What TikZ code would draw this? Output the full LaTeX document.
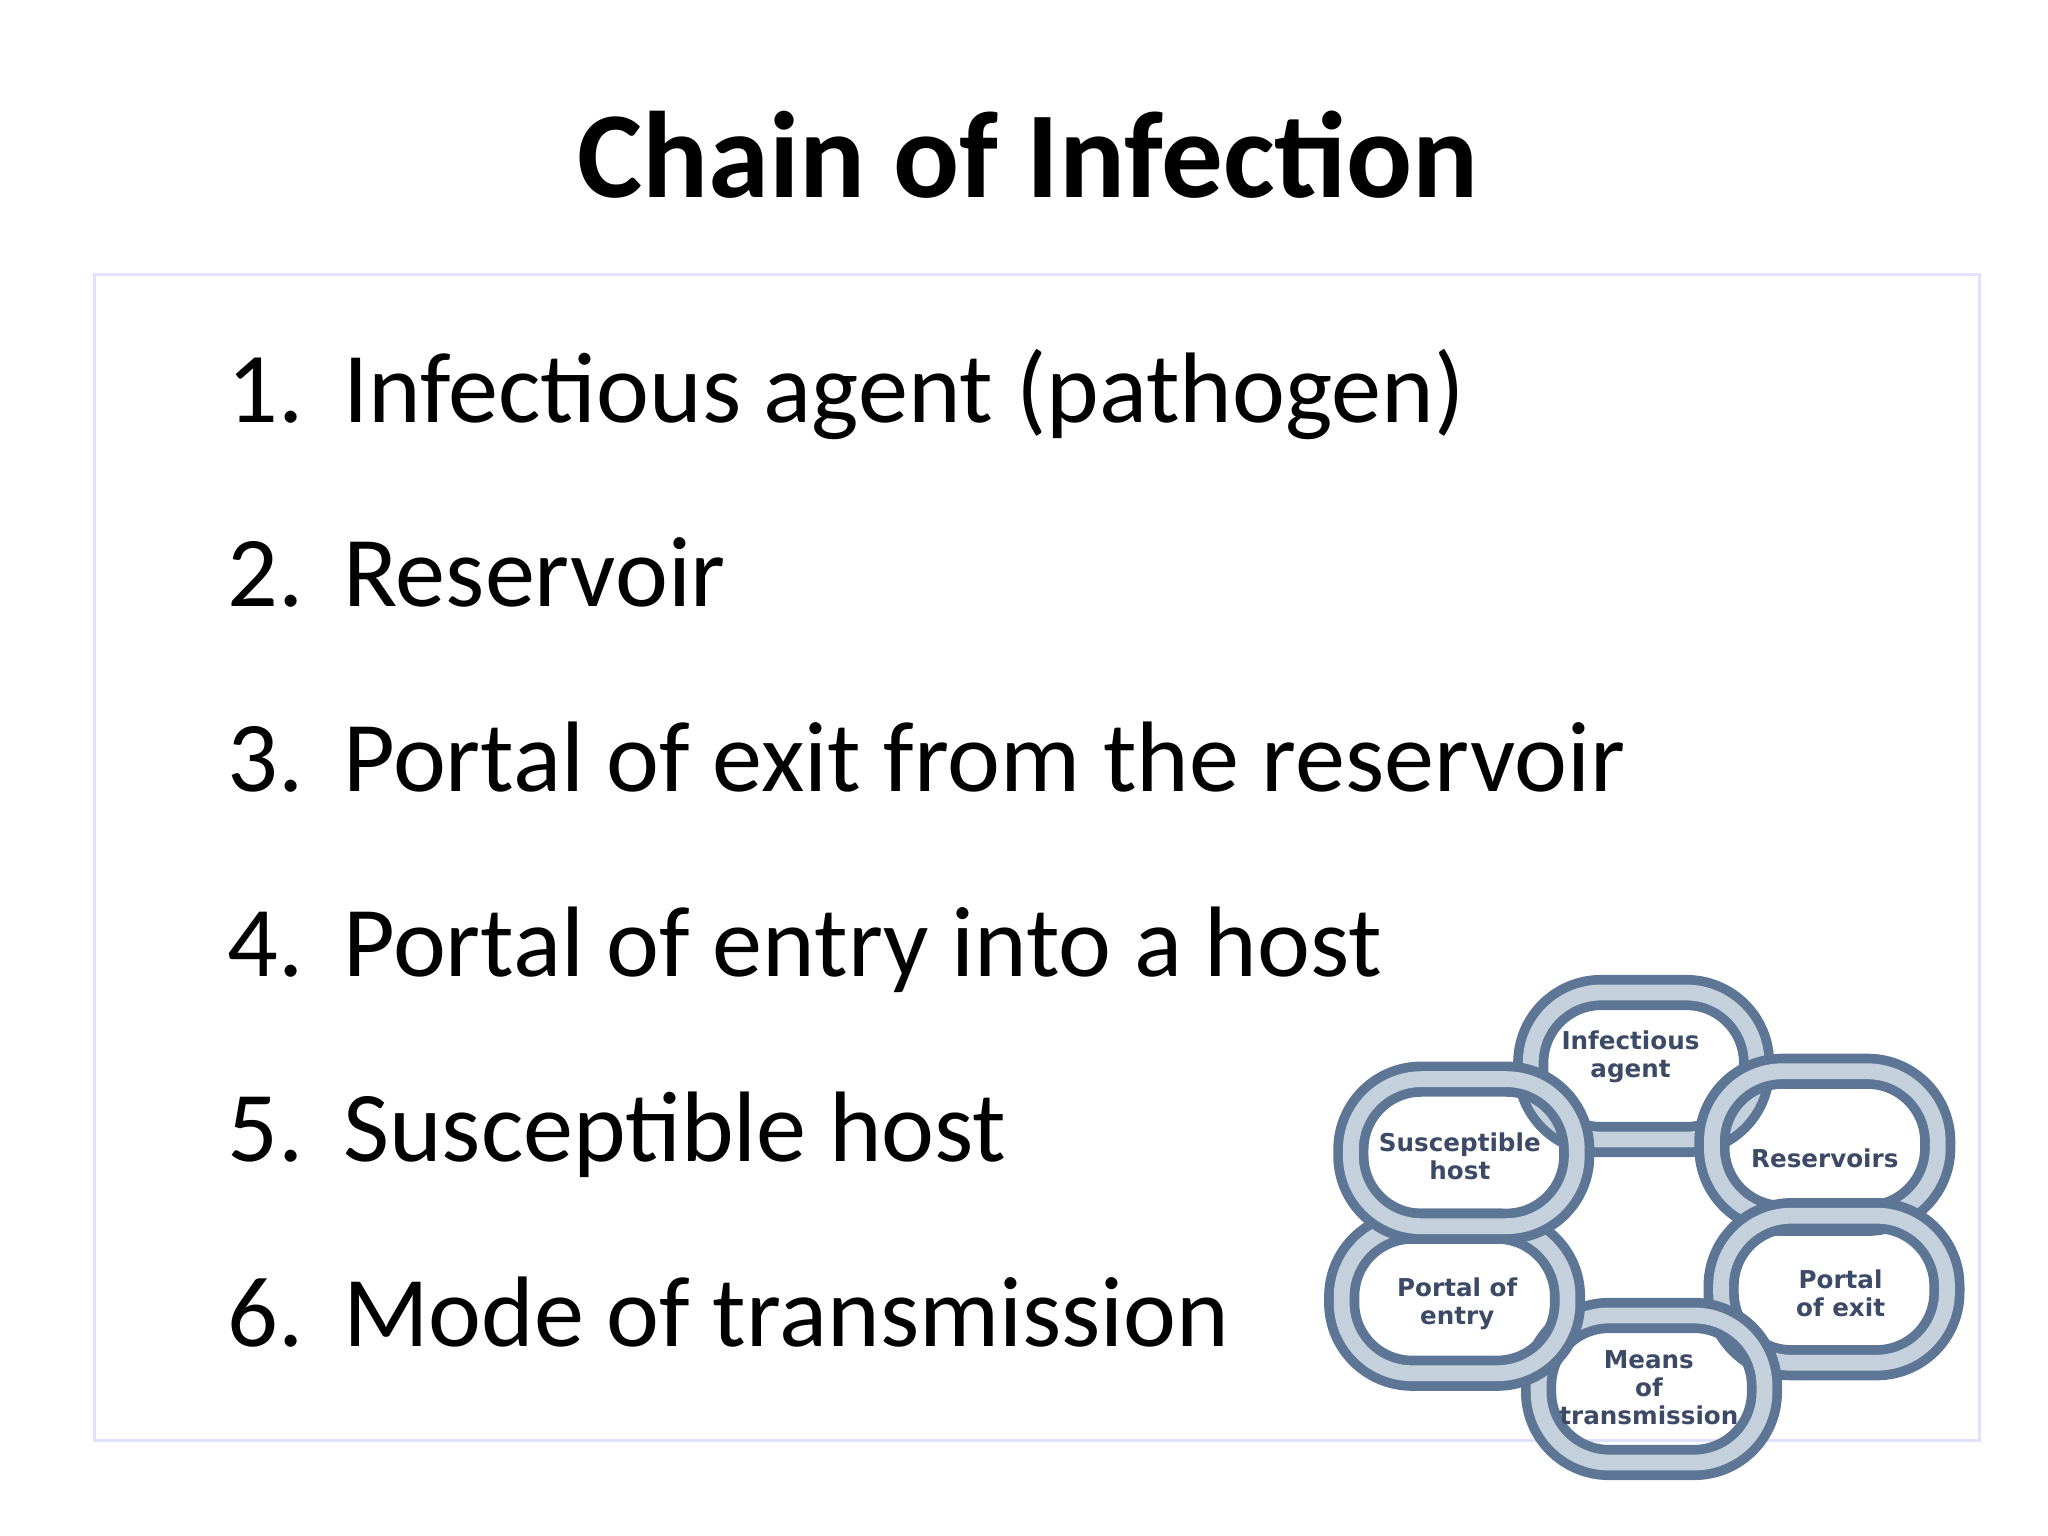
\documentclass[tikz,border=0pt]{standalone}
\usepackage{fontspec}
\setmainfont{Carlito}
\newfontfamily\lbl{DejaVu Sans}
\definecolor{ringd}{HTML}{5E7696}
\definecolor{ringl}{HTML}{C4D0DC}
\definecolor{labc}{HTML}{3C4A66}
\begin{document}
\begin{tikzpicture}[x=0.013128cm,y=-0.013128cm,
 item/.style={anchor=base west,font=\fontsize{28.5}{34}\selectfont},
 lab/.style={font=\lbl\bfseries\fontsize{7}{8}\selectfont,text=labc,align=center}]
\useasboundingbox (0,0) rectangle (1560,1170);
\node (title) at (783,118) {\fontsize{35}{42}\selectfont\bfseries Chain of Infection};
\draw[draw=blue!12, line width=0.8pt] (72,209) rectangle (1508,1097);
\foreach \n/\y/\t in {1/322/Infectious agent (pathogen),2/462/Reservoir,3/603/Portal of exit from the reservoir,4/744/Portal of entry into a host,5/885/Susceptible host,6/1026/Mode of transmission}{
 \node[item] (n\n) at (164,\y) {\n.};
 \node[item] (t\n) at (252,\y) {\t};
}
\foreach \cx/\cy in {1252/812,1390/872,1397/982,1258/1058,1108/990,1115/878}{
 \draw[rounded corners=20pt,line width=10pt,draw=ringd] (\cx-86,\cy-56) rectangle (\cx+86,\cy+56);
 \draw[rounded corners=20pt,line width=4.5pt,draw=ringl] (\cx-86,\cy-56) rectangle (\cx+86,\cy+56);
}
\node[lab] (ia) at (1242,805) {Infectious\\agent};
\node[lab] (rs) at (1390,882) {Reservoirs};
\node[lab] (pe) at (1402,985) {Portal\\of exit};
\node[lab] (mt) at (1256,1057) {Means\\of\\transmission};
\node[lab] (pn) at (1110,993) {Portal of\\entry};
\node[lab] (sh) at (1112,881) {Susceptible\\host};
\end{tikzpicture}
\end{document}
